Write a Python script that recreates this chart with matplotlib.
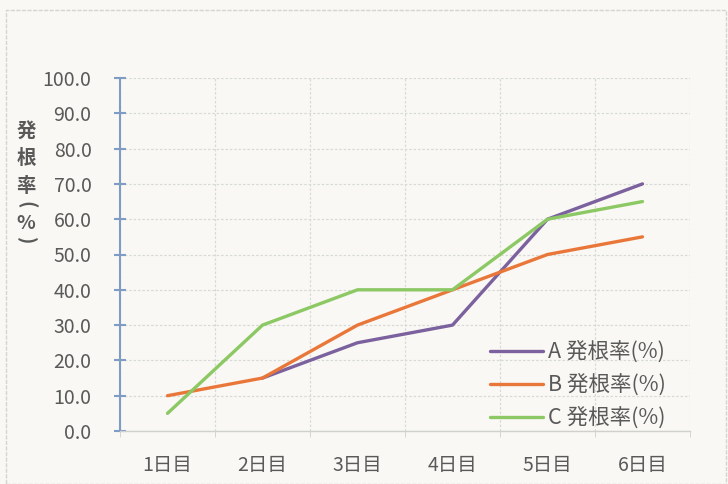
import numpy as np
import matplotlib
matplotlib.use("Agg")
import matplotlib.pyplot as plt
from matplotlib.patches import Rectangle

plt.rcParams['font.family'] = ['Noto Sans CJK JP', 'DejaVu Sans']

categories = ["1日目", "2日目", "3日目", "4日目", "5日目", "6日目"]
series_a = [np.nan, 15, 25, 30, 60, 70]
series_b = [10, 15, 30, 40, 50, 55]
series_c = [5, 30, 40, 40, 60, 65]
series_names = ["A 発根率(%)", "B 発根率(%)", "C 発根率(%)"]
y_ticks = [0, 10, 20, 30, 40, 50, 60, 70, 80, 90, 100]
y_label_chars = ["発", "根", "率", "(", "%", ")"]

colors = ["#7b619e", "#e9773a", "#8cc863"]
bg = "#f9f8f4"

W, H = 728, 484
fig = plt.figure(figsize=(W / 100, H / 100), dpi=100, facecolor=bg)
ax = fig.add_axes([120 / W, 1 - 431 / H, (690 - 120) / W, (431 - 78) / H])
ax.set_facecolor(bg)

# outer chart border
fig.patches.append(Rectangle((6 / W, 0), (W - 8) / W, 1 - 10 / H,
                             transform=fig.transFigure, fill=False,
                             edgecolor="#d4d4d0", linewidth=1.0,
                             linestyle=(0, (3, 1))))

x = np.arange(len(categories))
for vals, name, c in zip([series_a, series_b, series_c], series_names, colors):
    ax.plot(x, vals, color=c, linewidth=2.4, label=name, solid_capstyle='round', zorder=3)

ax.set_xlim(-0.5, len(categories) - 0.5)
ax.set_ylim(0, 100)
ax.set_yticks(y_ticks)
ax.set_yticklabels([f"{v:.1f}" for v in y_ticks])
ax.set_xticks(x)
ax.set_xticklabels(categories)
ax.set_xticks(np.arange(len(categories) + 1) - 0.5, minor=True)

# grid
ax.grid(axis='y', color="#d9d9d6", linestyle=(0, (2, 1.5)), linewidth=0.9)
ax.grid(axis='x', which='minor', color="#d9d9d6", linestyle=(0, (2, 1.5)), linewidth=0.9)
ax.grid(axis='x', which='major', visible=False)
ax.set_axisbelow(True)

for s in ["top", "right"]:
    ax.spines[s].set_visible(False)
ax.spines["left"].set_color("#7f9cc4")
ax.spines["left"].set_linewidth(1.5)
ax.spines["bottom"].set_color("#d0d0cc")
ax.spines["bottom"].set_linewidth(1.0)

ax.tick_params(axis='y', direction='inout', length=9, width=1.5, color="#7f9cc4",
               labelsize=14, labelcolor="#595959", pad=16)
ax.tick_params(axis='x', which='major', length=0, labelsize=14, labelcolor="#595959", pad=17)
ax.tick_params(axis='x', which='minor', length=4, color="#d0d0cc", direction='out')

# vertical y label (parentheses turned as in vertical writing)
positions = [131, 158, 186, 205, 223, 241]
for ch, yy in zip(y_label_chars, positions):
    rot = -90 if ch in "()" else 0
    fig.text(26 / W, 1 - yy / H, ch, ha='center', va='center', rotation=rot,
             fontsize=14, fontweight='bold', color="#595959")

leg = ax.legend(loc='upper left', bbox_to_anchor=(490 / W, 1 - 341 / H),
                bbox_transform=fig.transFigure, frameon=False, borderpad=0,
                borderaxespad=0, fontsize=15.5, labelcolor="#595959",
                handlelength=2.45, handletextpad=0.25, labelspacing=0.5)

fig.savefig("out.png", dpi=100, facecolor=bg)
